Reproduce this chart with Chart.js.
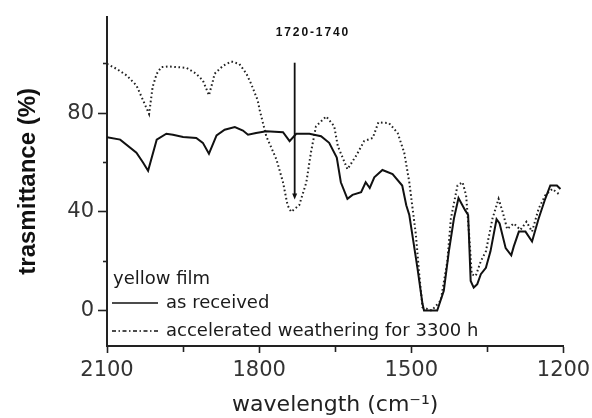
<!DOCTYPE html>
<html>
<head>
<meta charset="utf-8">
<title>FTIR spectrum - yellow film</title>
<script src="https://cdn.jsdelivr.net/npm/chart.js@4.4.0/dist/chart.umd.min.js"></script>
<style>
    html, body { margin: 0; padding: 0; background: #fff; }
    #spectrum { display: block; }
</style>
</head>
<body>
<canvas id="spectrum" width="592" height="418"></canvas>
<script>
// ===== DATA =====
const receivedWave = [2100, 2074, 2042, 2029, 2019, 2002, 1983, 1970, 1950, 1924, 1911, 1899, 1884, 1868, 1848, 1832, 1822, 1806,
    1786, 1753, 1740, 1727, 1701, 1678, 1662, 1647, 1639, 1626, 1616, 1599, 1590, 1582, 1573, 1557, 1537, 1518, 1510, 1504,
    1498, 1488, 1478, 1475, 1449, 1436, 1426, 1416, 1407, 1394, 1388, 1383, 1377, 1370, 1363, 1353, 1344, 1332, 1326, 1314,
    1303, 1298, 1288, 1275, 1262, 1249, 1236, 1226, 1213, 1206];
const receivedT = [70.3, 69.3, 64, 60, 56.7, 69.3, 71.7, 71.3, 70.4, 70, 68, 63.6, 71, 73.3, 74.4, 73, 71.3, 72,
    72.7, 72.3, 68.7, 71.7, 71.7, 70.7, 68, 62, 52, 45.3, 46.9, 48, 52, 49.7, 54, 57, 55.3, 50.7, 42.7, 38.7,
    30.7, 17.3, 2.7, 0, 0, 8, 24, 37.3, 45.6, 40.7, 38.7, 12, 9.3, 10.7, 14.7, 17.3, 24, 37, 35.3, 25.3,
    22.4, 26, 32, 32, 28, 37.3, 45.3, 50.7, 50.7, 49.3];

const weatheredWave = [2100, 2081, 2061, 2042, 2029, 2017, 2010, 2002, 1993, 1979, 1943, 1924, 1911, 1899, 1891, 1888, 1871, 1855,
    1839, 1825, 1816, 1803, 1799, 1786, 1766, 1753, 1744, 1737, 1721, 1707, 1698, 1688, 1668, 1652, 1645, 1626, 1609, 1593,
    1576, 1565, 1544, 1527, 1514, 1504, 1491, 1485, 1478, 1460, 1442, 1429, 1422, 1409, 1399, 1392, 1386, 1381, 1373, 1363,
    1353, 1340, 1328, 1320, 1311, 1298, 1285, 1273, 1262, 1249, 1236, 1222, 1206];
const weatheredT = [100, 98, 95.3, 91.3, 85.3, 79.7, 90.7, 96, 98.7, 99, 98.4, 96, 93.3, 87.3, 93.3, 96, 99.3, 101,
    100, 96, 92, 85.3, 81.3, 70.7, 61.3, 52, 42.7, 40, 42.7, 52, 64, 74.7, 78.7, 74.7, 66.7, 57.3, 62.7, 68.7,
    70, 76.3, 76, 72, 64, 52, 30.7, 16, 1.3, 0, 4, 20, 37.3, 50.7, 52, 46.7, 30.7, 14.7, 14, 20,
    24, 37.3, 45.3, 40, 33, 35.3, 32.7, 36, 32, 41.3, 46.7, 49.3, 46.7];

const xTicks = [2100, 1950, 1800, 1650, 1500, 1350, 1200];
const xLabels = ['2100', '', '1800', '', '1500', '', '1200'];
const yTicks = [0, 20, 40, 60, 80, 100];
const yLabels = ['0', '', '40', '', '80', ''];

const seriesNames = ['as received', 'accelerated weathering for 3300 h'];
const legendTitle = 'yellow film';

// band marker
const markWave = 1730;
const markTop = 100.5;
const markTip = 45;
const markLabelY = 112.8;
const markLabel = '1720-1740';

// ===== HELPERS =====
const toPoints = (xs, ys) => xs.map((x, i) => ({ x: x, y: ys[i] }));
const isMinorX = (ctx) => xLabels[xTicks.indexOf(ctx.tick && ctx.tick.value)] === '';
const isMinorY = (ctx) => yLabels[yTicks.indexOf(ctx.tick && ctx.tick.value)] === '';

// ===== PLUGINS =====
const bandMarker = {
    id: 'bandMarker',
    afterDatasetsDraw(chart) {
        const { ctx, scales: { x, y } } = chart;
        const px = x.getPixelForValue(markWave);
        const top = y.getPixelForValue(markTop);
        const tip = y.getPixelForValue(markTip);
        ctx.save();
        ctx.strokeStyle = '#111';
        ctx.fillStyle = '#111';
        ctx.lineWidth = 1.8;
        ctx.beginPath();
        ctx.moveTo(px, top);
        ctx.lineTo(px, tip - 4);
        ctx.stroke();
        ctx.beginPath();
        ctx.moveTo(px - 2.5, tip - 6);
        ctx.lineTo(px + 2.5, tip - 6);
        ctx.lineTo(px, tip);
        ctx.closePath();
        ctx.fill();
        ctx.font = 'bold 12px "Liberation Sans", Arial, sans-serif';
        ctx.letterSpacing = '1.9px';
        ctx.textAlign = 'left';
        ctx.textBaseline = 'middle';
        ctx.fillText(markLabel, px - 19, y.getPixelForValue(markLabelY));
        ctx.restore();
    }
};

const filmLegend = {
    id: 'filmLegend',
    afterDraw(chart) {
        const { ctx, chartArea: { left, bottom } } = chart;
        const textX = left + 59;
        const rows = [bottom - 67, bottom - 43, bottom - 15];
        ctx.save();
        ctx.font = '18px "DejaVu Sans", sans-serif';
        ctx.fillStyle = '#1a1a1a';
        ctx.textAlign = 'left';
        ctx.textBaseline = 'middle';
        ctx.fillText(legendTitle, left + 6, rows[0]);

        ctx.strokeStyle = '#111';
        ctx.lineWidth = 1.6;
        ctx.beginPath();
        ctx.moveTo(left + 5, rows[1]);
        ctx.lineTo(left + 51, rows[1]);
        ctx.stroke();
        ctx.fillText(seriesNames[0], textX, rows[1]);

        ctx.setLineDash([4, 2.5, 1.5, 2.5]);
        ctx.beginPath();
        ctx.moveTo(left + 5, rows[2]);
        ctx.lineTo(left + 53, rows[2]);
        ctx.stroke();
        ctx.setLineDash([]);
        ctx.fillText(seriesNames[1], textX, rows[2]);
        ctx.restore();
    }
};

// ===== CHART =====
const tickFont = { family: '"DejaVu Sans", sans-serif', size: 21 };

new Chart(document.getElementById('spectrum'), {
    type: 'line',
    data: {
        datasets: [{
            label: seriesNames[0],
            data: toPoints(receivedWave, receivedT),
            borderColor: '#111',
            borderWidth: 2,
            pointRadius: 0,
            tension: 0
        }, {
            label: seriesNames[1],
            data: toPoints(weatheredWave, weatheredT),
            borderColor: '#222',
            borderWidth: 2,
            borderDash: [1.6, 2.6],
            pointRadius: 0,
            tension: 0
        }]
    },
    options: {
        responsive: false,
        animation: false,
        layout: { padding: { top: 12, right: 28.5, bottom: 0, left: 0 } },
        plugins: {
            legend: { display: false },
            tooltip: { enabled: false }
        },
        scales: {
            x: {
                type: 'linear',
                reverse: true,
                min: 1200,
                max: 2100,
                afterBuildTicks: (scale) => { scale.ticks = xTicks.map(v => ({ value: v })); },
                afterFit: (scale) => {
                    scale.height = 72;
                    scale.paddingLeft = 0;
                    scale.paddingRight = 0;
                },
                ticks: {
                    autoSkip: false,
                    maxRotation: 0,
                    padding: 5,
                    color: '#333',
                    font: tickFont,
                    callback: (value) => xLabels[xTicks.indexOf(value)]
                },
                grid: {
                    drawOnChartArea: false,
                    tickLength: 7,
                    tickWidth: 1.6,
                    tickColor: '#222',
                    tickBorderDash: (ctx) => isMinorX(ctx) ? [5, 20] : []
                },
                border: { display: true, color: '#222', width: 2 },
                title: {
                    display: true,
                    text: 'wavelength (cm\u207B\u00B9)',
                    color: '#222',
                    font: { family: '"DejaVu Sans", sans-serif', size: 22 },
                    padding: { top: 0, bottom: 0 }
                }
            },
            y: {
                min: -14.4,
                max: 119.2,
                afterBuildTicks: (scale) => { scale.ticks = yTicks.map(v => ({ value: v })); },
                afterFit: (scale) => { scale.width = 107; },
                ticks: {
                    padding: 4,
                    color: '#333',
                    font: tickFont,
                    callback: (value) => yLabels[yTicks.indexOf(value)]
                },
                grid: {
                    drawOnChartArea: false,
                    tickLength: 9,
                    tickWidth: 1.6,
                    tickColor: '#222',
                    tickBorderDash: (ctx) => isMinorY(ctx) ? [4, 20] : [],
                    tickBorderDashOffset: (ctx) => isMinorY(ctx) ? -5 : 0
                },
                border: { display: true, color: '#222', width: 2 },
                title: {
                    display: true,
                    text: 'trasmittance (%)',
                    color: '#111',
                    font: { family: '"Liberation Sans", Arial, sans-serif', size: 24, weight: 'bold' },
                    padding: { top: 14, bottom: 0 }
                }
            }
        }
    },
    plugins: [bandMarker, filmLegend]
});
</script>
</body>
</html>
